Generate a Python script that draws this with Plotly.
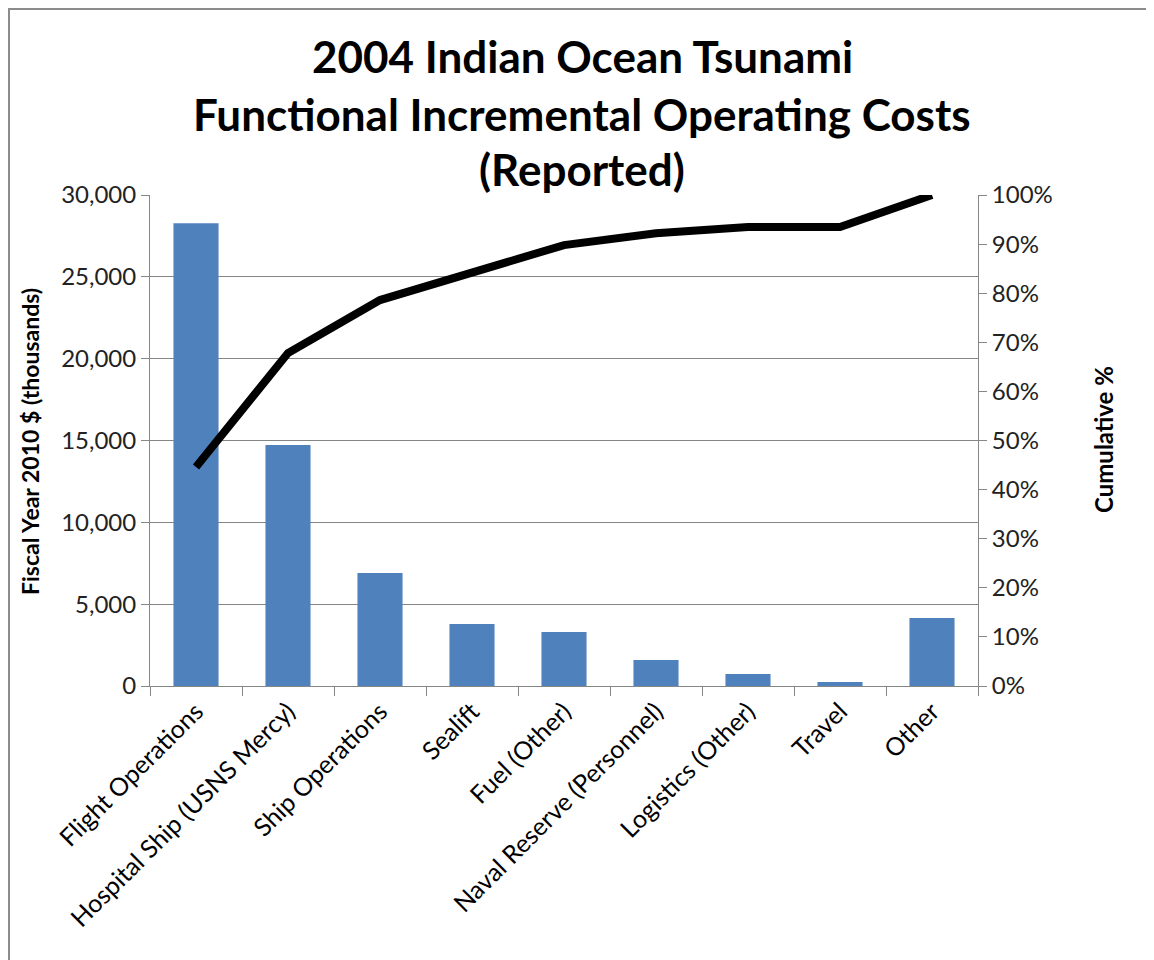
import plotly.graph_objects as go

categories = ["Flight Operations", "Hospital Ship (USNS Mercy)", "Ship Operations", "Sealift",
              "Fuel (Other)", "Naval Reserve (Personnel)", "Logistics (Other)", "Travel", "Other"]
costs = [28270, 14730, 6900, 3790, 3300, 1590, 730, 245, 4150]
cumulative_pct = [0.446, 0.678, 0.786, 0.844, 0.898, 0.922, 0.935, 0.935, 1.0]
title_lines = ["2004 Indian Ocean Tsunami", "Functional Incremental Operating Costs", "(Reported)"]
left_ticks = [0, 5000, 10000, 15000, 20000, 25000, 30000]
right_ticks = [i / 10 for i in range(11)]

# page body has an 8px margin; work in screen pixels and shift
OFF = 8
W, H = 1154 - OFF, 960 - OFF
L, R, T, B = 150 - OFF, 978 - OFF, 195 - OFF, 686 - OFF
FONT = "Lato"

def px(xs):
    return (xs - OFF - L) / (R - L)

def py(ys):
    return (B - (ys - OFF)) / (B - T)

fig = go.Figure()
fig.add_trace(go.Bar(x=categories, y=costs, width=0.49,
                     marker=dict(color="#4F81BD", line=dict(width=0)),
                     yaxis="y", showlegend=False))
fig.add_trace(go.Scatter(x=categories, y=cumulative_pct, mode="lines",
                         line=dict(color="black", width=8),
                         yaxis="y2", cliponaxis=False, showlegend=False))

annotations = []
for text, ypix in zip(title_lines, [56, 114, 169]):
    annotations.append(dict(text="<b>%s</b>" % text, x=px(582), y=py(ypix), xref="paper", yref="paper",
                            xanchor="center", yanchor="middle", showarrow=False,
                            font=dict(family=FONT, size=44, color="black")))
annotations.append(dict(text="<b>Fiscal Year 2010 $ (thousands)</b>", x=px(30), y=py(442),
                        xref="paper", yref="paper", textangle=-90, xanchor="center", yanchor="middle",
                        showarrow=False, font=dict(family=FONT, size=23, color="black")))
annotations.append(dict(text="<b>Cumulative %</b>", x=px(1103), y=py(440),
                        xref="paper", yref="paper", textangle=-90, xanchor="center", yanchor="middle",
                        showarrow=False, font=dict(family=FONT, size=24, color="black")))

# outer chart border: only left and top edges are visible in the reference
x_left, y_top = px(9), py(9)
x_far, y_far = px(1300), py(1100)
border_path = "M %f,%f L %f,%f L %f,%f" % (x_left, y_far, x_left, y_top, x_far, y_top)

fig.update_layout(
    width=W, height=H,
    margin=dict(l=L, r=W - R, t=T, b=H - B, pad=0),
    paper_bgcolor="white", plot_bgcolor="white",
    annotations=annotations,
    xaxis=dict(type="category", tickangle=-45, tickson="boundaries",
               ticks="outside", ticklen=9, tickcolor="#868686",
               showline=True, linecolor="#868686", linewidth=1,
               tickfont=dict(family=FONT, size=25, color="black"),
               showgrid=False, range=[-0.5, 8.5]),
    yaxis=dict(range=[0, 30000], tickvals=left_ticks, tickformat=",d",
               ticks="outside", ticklen=8, tickcolor="#868686",
               showline=True, linecolor="#868686", linewidth=1,
               showgrid=True, gridcolor="#868686", gridwidth=1,
               zeroline=False,
               tickfont=dict(family=FONT, size=24, color="#222")),
    yaxis2=dict(range=[0, 1], tickvals=right_ticks, tickformat=".0%",
                overlaying="y", side="right",
                ticks="outside", ticklen=8, tickcolor="#868686",
                showline=True, linecolor="#868686", linewidth=1,
                showgrid=False, zeroline=False,
                tickfont=dict(family=FONT, size=24, color="#222")),
    shapes=[dict(type="path", xref="paper", yref="paper", path=border_path,
                 line=dict(color="#8c8c8c", width=2), layer="below")],
)

fig.write_html("out.html")
